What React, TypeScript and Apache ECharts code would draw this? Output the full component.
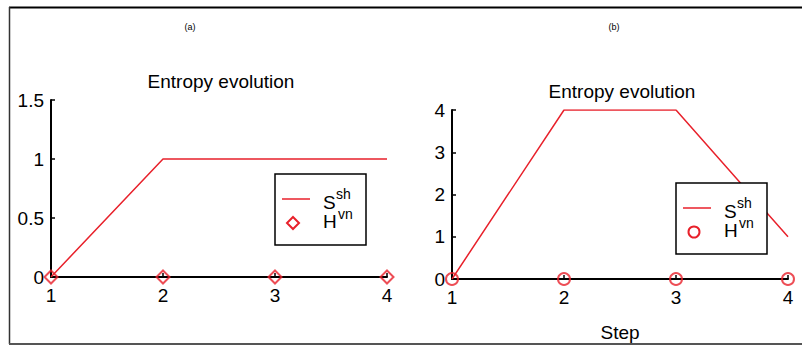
import React, { useEffect, useRef } from "react";
import * as echarts from "echarts";

// Simulation steps and entropy values for the two runs
const steps = [1, 2, 3, 4];
const shannonA = [0, 1, 1, 1];
const vonNeumannA = [0, 0, 0, 0];
const shannonB = [0, 4, 4, 1];
const vonNeumannB = [0, 0, 0, 0];

const yTicksA = { min: 0, max: 1.5, interval: 0.5 };
const yTicksB = { min: 0, max: 4, interval: 1 };

const RED = "#e8212b";
const FONT = "Liberation Sans, Arial, sans-serif";

const pairs = (xs: number[], ys: number[]) => xs.map((x, i) => [x, ys[i]]);

const axisLabel = { color: "#000", fontSize: 19, fontFamily: FONT };

function xAxis(gridIndex: number, name?: string) {
  return {
    type: "value",
    gridIndex,
    min: 1,
    max: 4,
    interval: 1,
    name,
    nameLocation: "middle",
    nameGap: 44,
    nameTextStyle: { color: "#000", fontSize: 19, fontFamily: FONT },
    axisLine: { show: true, onZero: false, lineStyle: { color: "#000", width: 2 } },
    axisTick: { show: true, inside: true, length: 4, lineStyle: { color: "#000", width: 1.5 } },
    axisLabel: { ...axisLabel, margin: 9 },
    splitLine: { show: false },
  };
}

function yAxis(gridIndex: number, t: { min: number; max: number; interval: number }) {
  return {
    type: "value",
    gridIndex,
    min: t.min,
    max: t.max,
    interval: t.interval,
    axisLine: { show: true, lineStyle: { color: "#000", width: 2 } },
    axisTick: { show: true, inside: true, length: 4, lineStyle: { color: "#000", width: 1.5 } },
    axisLabel: { ...axisLabel, margin: 7 },
    splitLine: { show: false },
  };
}

// Boxed legend drawn on top of the plot area (hides the curve beneath it)
function legendBox(x: number, y: number, marker: "diamond" | "circle") {
  const Z = 100;
  const mx = x + 18;
  const my = y + 49;
  const markerEl =
    marker === "diamond"
      ? {
          type: "polygon",
          z: Z + 1,
          shape: { points: [[mx, my - 6], [mx + 6, my], [mx, my + 6], [mx - 6, my]] },
          style: { fill: "none", stroke: RED, lineWidth: 2 },
        }
      : {
          type: "circle",
          z: Z + 1,
          shape: { cx: mx, cy: my, r: 5.5 },
          style: { fill: "none", stroke: RED, lineWidth: 2 },
        };
  const txt = (tx: number, ty: number, text: string, size: number) => ({
    type: "text",
    z: Z + 1,
    x: tx,
    y: ty,
    style: { text, fill: "#000", font: `${size}px ${FONT}`, textVerticalAlign: "middle" },
  });
  return [
    {
      type: "rect",
      z: Z,
      shape: { x, y, width: 91, height: 71 },
      style: { fill: "#fff", stroke: "#000", lineWidth: 1.5 },
    },
    {
      type: "line",
      z: Z + 1,
      shape: { x1: x + 7, y1: y + 25, x2: x + 35, y2: y + 25 },
      style: { stroke: RED, lineWidth: 1.5 },
    },
    markerEl,
    txt(x + 48, y + 28, "S", 19),
    txt(x + 61, y + 20, "sh", 14),
    txt(x + 48, y + 47, "H", 19),
    txt(x + 63, y + 40, "vn", 14),
  ];
}

export default function App() {
  const ref = useRef<HTMLDivElement>(null);

  useEffect(() => {
    if (!ref.current) return;
    const chart = echarts.init(ref.current, null, { renderer: "svg" });
    const titleStyle = { color: "#000", fontSize: 19, fontWeight: "normal", fontFamily: FONT };
    const tagStyle = { color: "#000", fontSize: 9, fontWeight: "normal", fontFamily: FONT };
    chart.setOption({
      animation: false,
      backgroundColor: "#fff",
      title: [
        { text: "Entropy evolution", left: 216, top: 67, textAlign: "center", textStyle: titleStyle },
        { text: "Entropy evolution", left: 617, top: 77, textAlign: "center", textStyle: titleStyle },
        { text: "(a)", left: 185, top: 17, textAlign: "center", textStyle: tagStyle },
        { text: "(b)", left: 609, top: 17, textAlign: "center", textStyle: tagStyle },
      ],
      grid: [
        { left: 51, top: 100, width: 336, height: 177, containLabel: false },
        { left: 452, top: 110, width: 336, height: 175, containLabel: false },
      ],
      xAxis: [xAxis(0), xAxis(1, "Step")],
      yAxis: [yAxis(0, yTicksA), yAxis(1, yTicksB)],
      series: [
        {
          name: "S^sh (a)",
          type: "line",
          xAxisIndex: 0,
          yAxisIndex: 0,
          data: pairs(steps, shannonA),
          showSymbol: false,
          lineStyle: { color: RED, width: 1.5 },
          z: 3,
        },
        {
          name: "H^vn (a)",
          type: "scatter",
          xAxisIndex: 0,
          yAxisIndex: 0,
          data: pairs(steps, vonNeumannA),
          symbol: "diamond",
          symbolSize: 13,
          itemStyle: { color: "transparent", borderColor: RED, borderWidth: 2 },
          z: 4,
        },
        {
          name: "S^sh (b)",
          type: "line",
          xAxisIndex: 1,
          yAxisIndex: 1,
          data: pairs(steps, shannonB),
          showSymbol: false,
          lineStyle: { color: RED, width: 1.5 },
          z: 3,
        },
        {
          name: "H^vn (b)",
          type: "scatter",
          xAxisIndex: 1,
          yAxisIndex: 1,
          data: pairs(steps, vonNeumannB),
          symbol: "circle",
          symbolSize: 12,
          itemStyle: { color: "transparent", borderColor: RED, borderWidth: 2 },
          z: 4,
        },
      ],
      graphic: [
        // figure frame (open on the right)
        { type: "line", z: 50, shape: { x1: 9, y1: 7.5, x2: 802, y2: 7.5 }, style: { stroke: "#000", lineWidth: 2 } },
        { type: "line", z: 50, shape: { x1: 9.5, y1: 7, x2: 9.5, y2: 344 }, style: { stroke: "#333", lineWidth: 1.5 } },
        { type: "line", z: 50, shape: { x1: 9, y1: 344, x2: 802, y2: 344 }, style: { stroke: "#555", lineWidth: 2 } },
        ...legendBox(275, 174, "diamond"),
        ...legendBox(676, 183, "circle"),
      ],
    });
    return () => chart.dispose();
  }, []);

  return (
    <div
      ref={ref}
      style={{ position: "fixed", left: 0, top: 0, width: 802, height: 347 }}
    />
  );
}
